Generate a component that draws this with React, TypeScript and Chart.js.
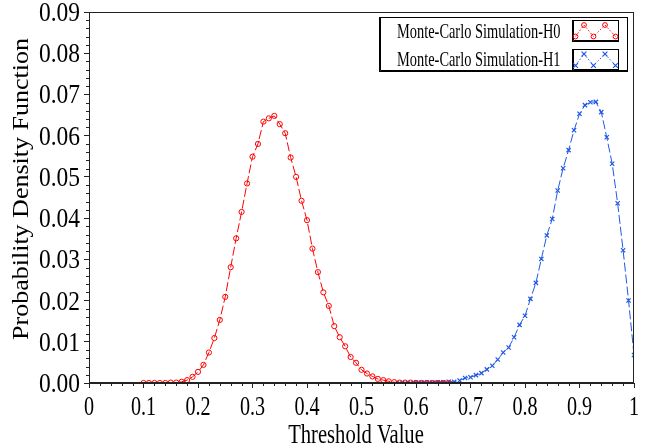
import React, { useEffect, useRef } from 'react';
import { Chart, registerables } from 'chart.js';

Chart.register(...registerables);

// ---------- data ----------
const seriesNames = ['Monte-Carlo Simulation-H0', 'Monte-Carlo Simulation-H1'];
const xTitle = 'Threshold Value';
const yTitle = 'Probability Density Function';

const xTickValues = [0, 0.1, 0.2, 0.3, 0.4, 0.5, 0.6, 0.7, 0.8, 0.9, 1];
const xTickLabels = ['0', '0.1', '0.2', '0.3', '0.4', '0.5', '0.6', '0.7', '0.8', '0.9', '1'];
const yTickValues = [0, 0.01, 0.02, 0.03, 0.04, 0.05, 0.06, 0.07, 0.08, 0.09];
const yTickLabels = ['0.00', '0.01', '0.02', '0.03', '0.04', '0.05', '0.06', '0.07', '0.08', '0.09'];

const xH0 = [
  0.10, 0.11, 0.12, 0.13, 0.14, 0.15, 0.16, 0.17, 0.18, 0.19,
  0.20, 0.21, 0.22, 0.23, 0.24, 0.25, 0.26, 0.27, 0.28, 0.29,
  0.30, 0.31, 0.32, 0.33, 0.34, 0.35, 0.36, 0.37, 0.38, 0.39,
  0.40, 0.41, 0.42, 0.43, 0.44, 0.45, 0.46, 0.47, 0.48, 0.49,
  0.50, 0.51, 0.52, 0.53, 0.54, 0.55, 0.56, 0.57, 0.58, 0.59,
  0.60, 0.61, 0.62, 0.63, 0.64, 0.65, 0.66,
];
const yH0 = [
  0.0000, 0.0000, 0.0000, 0.0000, 0.0000, 0.0001, 0.0001, 0.0003, 0.0007, 0.0015,
  0.0027, 0.0044, 0.0074, 0.0109, 0.0153, 0.0209, 0.0281, 0.0351, 0.0415, 0.0484,
  0.0549, 0.0580, 0.0634, 0.0642, 0.0648, 0.0628, 0.0606, 0.0547, 0.0500, 0.0442,
  0.0395, 0.0326, 0.0269, 0.0220, 0.0187, 0.0138, 0.0111, 0.0089, 0.0063, 0.0049,
  0.0032, 0.0023, 0.0016, 0.0010, 0.0007, 0.0004, 0.0002, 0.0001, 0.0001, 0.0001,
  0.0000, 0.0000, 0.0000, 0.0000, 0.0000, 0.0000, 0.0000,
];

const xH1 = [
  0.57, 0.58, 0.59, 0.60, 0.61, 0.62, 0.63, 0.64, 0.65, 0.66,
  0.67, 0.68, 0.69, 0.70, 0.71, 0.72, 0.73, 0.74, 0.75, 0.76,
  0.77, 0.78, 0.79, 0.80, 0.81, 0.82, 0.83, 0.84, 0.85, 0.86,
  0.87, 0.88, 0.89, 0.90, 0.91, 0.92, 0.93, 0.94, 0.95, 0.96,
  0.97, 0.98, 0.99, 1.00,
];
const yH1 = [
  0.0000, 0.0000, 0.0000, 0.0001, 0.0001, 0.0001, 0.0001, 0.0002, 0.0002, 0.0003,
  0.0003, 0.0006, 0.0012, 0.0014, 0.0019, 0.0024, 0.0033, 0.0042, 0.0057, 0.0074,
  0.0086, 0.0111, 0.0141, 0.0163, 0.0204, 0.0243, 0.0301, 0.0358, 0.0398, 0.0467,
  0.0521, 0.0565, 0.0613, 0.0653, 0.0674, 0.0681, 0.0682, 0.0657, 0.0596, 0.0532,
  0.0436, 0.0322, 0.0200, 0.0068,
];

const RED = '#ff0000';
const BLUE = '#1f58e6';
const FONT = '"Liberation Serif", "Times New Roman", serif';

function drawSqueezed(ctx: CanvasRenderingContext2D, text: string, x: number, y: number,
  size: number, sx: number, align: CanvasTextAlign, baseline: CanvasTextBaseline) {
  ctx.save();
  ctx.translate(x, y);
  ctx.scale(sx, 1);
  ctx.font = `${size}px ${FONT}`;
  ctx.textAlign = align;
  ctx.textBaseline = baseline;
  ctx.fillStyle = '#000';
  ctx.fillText(text, 0, 0);
  ctx.restore();
}

function circleMark(ctx: CanvasRenderingContext2D, x: number, y: number, r: number, color: string) {
  ctx.beginPath();
  ctx.setLineDash([]);
  ctx.strokeStyle = color;
  ctx.lineWidth = 1;
  ctx.arc(x, y, r, 0, Math.PI * 2);
  ctx.stroke();
}
function crossMark(ctx: CanvasRenderingContext2D, x: number, y: number, r: number, color: string) {
  ctx.beginPath();
  ctx.setLineDash([]);
  ctx.strokeStyle = color;
  ctx.lineWidth = 1.2;
  ctx.moveTo(x - r, y - r); ctx.lineTo(x + r, y + r);
  ctx.moveTo(x + r, y - r); ctx.lineTo(x - r, y + r);
  ctx.stroke();
}

const decor = {
  id: 'decor',
  afterDraw(chart: any) {
    const { ctx, chartArea: a, scales } = chart;
    const xs = scales.x;
    const ys = scales.y;
    ctx.save();
    // frame
    ctx.strokeStyle = '#222';
    ctx.lineWidth = 1;
    ctx.setLineDash([]);
    ctx.strokeRect(Math.round(a.left) + 0.5, Math.round(a.top) + 0.5,
      Math.round(a.right - a.left) - 1, Math.round(a.bottom - a.top) - 1);

    // minor ticks
    ctx.strokeStyle = '#222';
    ctx.beginPath();
    for (let i = 0; i <= 50; i++) {
      if (i % 5 === 0) continue;
      const px = Math.round(xs.getPixelForValue(i * 0.02)) + 0.5;
      ctx.moveTo(px, a.bottom);
      ctx.lineTo(px, a.bottom + 3);
    }
    for (let i = 0; i <= 45; i++) {
      if (i % 5 === 0) continue;
      const py = Math.round(ys.getPixelForValue(i * 0.002)) + 0.5;
      ctx.moveTo(a.left, py);
      ctx.lineTo(a.left - 3, py);
    }
    ctx.stroke();

    // tick labels
    xTickValues.forEach((v, i) => {
      drawSqueezed(ctx, xTickLabels[i], xs.getPixelForValue(v), 415, 28, 0.72, 'center', 'alphabetic');
    });
    yTickValues.forEach((v, i) => {
      drawSqueezed(ctx, yTickLabels[i], 80, ys.getPixelForValue(v) + 9, 27, 0.87, 'right', 'alphabetic');
    });

    // axis titles
    drawSqueezed(ctx, xTitle, 356, 443, 28, 0.736, 'center', 'alphabetic');
    ctx.save();
    ctx.translate(22, 189);
    ctx.rotate(-Math.PI / 2);
    ctx.scale(1, 0.85);
    ctx.font = `26px ${FONT}`;
    ctx.textAlign = 'center';
    ctx.textBaseline = 'middle';
    ctx.fillStyle = '#000';
    ctx.fillText(yTitle, 0, 0);
    ctx.restore();

    // legend box
    const lx = 379.5, ly = 17.5, lw = 248, lh = 54;
    ctx.fillStyle = '#fff';
    ctx.fillRect(lx, ly, lw, lh);
    ctx.strokeStyle = '#000';
    ctx.lineWidth = 1;
    ctx.strokeRect(lx, ly, lw, lh);
    ctx.beginPath();
    ctx.moveTo(lx + 1, ly); ctx.lineTo(lx + 1, ly + lh - 1); ctx.lineTo(lx + lw, ly + lh - 1);
    ctx.stroke();

    const rows = [
      { y: 20.5, color: RED, kind: 'circle', text: seriesNames[0], base: 38 },
      { y: 49.5, color: BLUE, kind: 'cross', text: seriesNames[1], base: 66 },
    ];
    rows.forEach((r) => {
      drawSqueezed(ctx, r.text, 397, r.base, 20.4, 0.706, 'left', 'alphabetic');
      const bx = 572.5, bw = 46, bh = 21;
      ctx.strokeStyle = '#000';
      ctx.lineWidth = 1;
      ctx.setLineDash([]);
      ctx.strokeRect(bx, r.y, bw, bh);
      ctx.beginPath();
      ctx.moveTo(bx + 1, r.y); ctx.lineTo(bx + 1, r.y + bh - 1); ctx.lineTo(bx + bw, r.y + bh - 1);
      ctx.stroke();
      const lo = r.y + 16, hi = r.y + 4.5;
      const pts = [[575.5, lo], [584, hi], [593.5, lo], [605, hi], [615.5, lo]];
      ctx.beginPath();
      ctx.strokeStyle = r.color;
      ctx.lineWidth = 1;
      ctx.setLineDash([1.5, 2]);
      pts.forEach((p, i) => (i ? ctx.lineTo(p[0], p[1]) : ctx.moveTo(p[0], p[1])));
      ctx.stroke();
      pts.forEach((p) => (r.kind === 'circle'
        ? circleMark(ctx, p[0], p[1], 2.4, r.color)
        : crossMark(ctx, p[0], p[1], 2.4, r.color)));
    });
    ctx.restore();
  },
};

export default function App() {
  const ref = useRef<HTMLCanvasElement | null>(null);
  useEffect(() => {
    if (!ref.current) return;
    const chart = new Chart(ref.current, {
      type: 'line',
      data: {
        datasets: [
          {
            label: seriesNames[0],
            data: xH0.map((x, i) => ({ x, y: yH0[i] })),
            borderColor: RED,
            borderWidth: 1,
            borderDash: [9, 3],
            pointStyle: 'circle',
            pointRadius: 2.6,
            pointBorderWidth: 1,
            pointBorderColor: RED,
            pointBackgroundColor: 'rgba(0,0,0,0)',
            tension: 0,
          },
          {
            label: seriesNames[1],
            data: xH1.map((x, i) => ({ x, y: yH1[i] })),
            borderColor: BLUE,
            borderWidth: 1,
            borderDash: [9, 3],
            pointStyle: 'crossRot',
            pointRadius: 3,
            pointBorderWidth: 1.2,
            pointBorderColor: BLUE,
            pointBackgroundColor: BLUE,
            tension: 0,
          },
        ],
      },
      options: {
        animation: false,
        responsive: false,
        maintainAspectRatio: false,
        layout: { padding: { left: 0, top: 12, right: 22, bottom: 0 } },
        plugins: { legend: { display: false }, tooltip: { enabled: false }, title: { display: false } },
        scales: {
          x: {
            type: 'linear',
            min: 0,
            max: 1,
            afterFit: (s: any) => { s.height = 64; },
            ticks: { stepSize: 0.1, display: false },
            grid: { drawOnChartArea: false, drawTicks: true, tickLength: 5, color: '#222' },
            border: { display: true, color: '#222', width: 1 },
          },
          y: {
            type: 'linear',
            min: 0,
            max: 0.09,
            afterFit: (s: any) => { s.width = 89; },
            ticks: { stepSize: 0.01, display: false },
            grid: { drawOnChartArea: false, drawTicks: true, tickLength: 5, color: '#222' },
            border: { display: true, color: '#222', width: 1 },
          },
        },
      },
      plugins: [decor],
    });
    return () => chart.destroy();
  }, []);
  return (
    <div style={{ position: 'absolute', left: 0, top: 0, width: 656, height: 447 }}>
      <canvas ref={ref} width={656} height={447} style={{ display: 'block', width: 656, height: 447 }} />
    </div>
  );
}
